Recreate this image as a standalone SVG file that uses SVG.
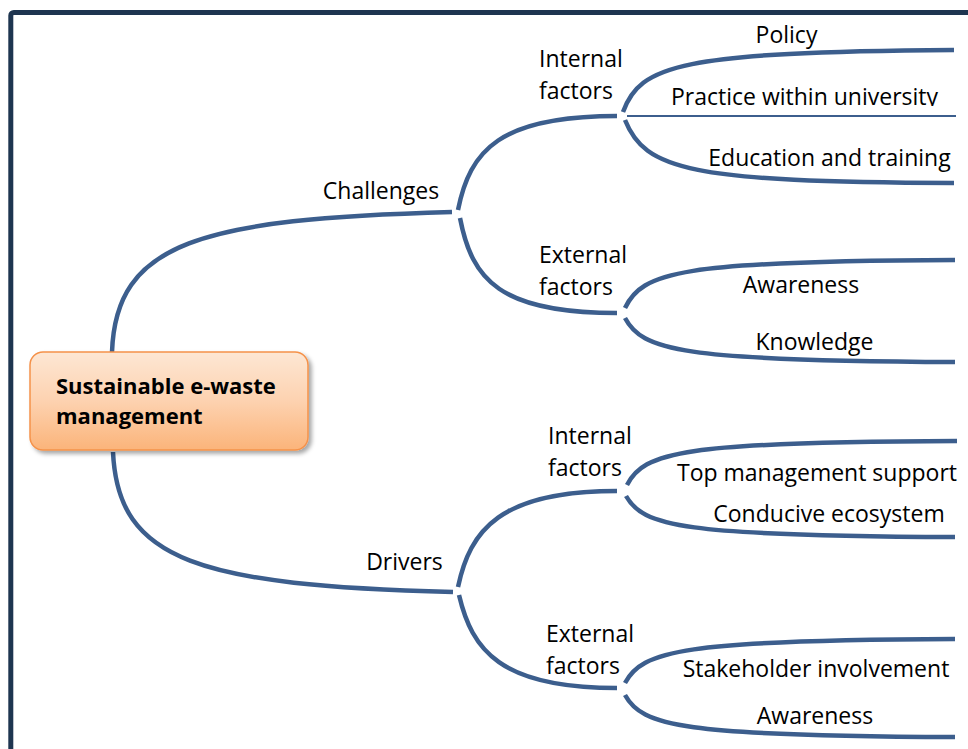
<svg xmlns="http://www.w3.org/2000/svg" width="968" height="749" viewBox="0 0 968 749">
<defs>
<linearGradient id="nodeFill" x1="0" y1="0" x2="0" y2="1">
<stop offset="0" stop-color="#fde7d4"/>
<stop offset="0.5" stop-color="#fdd2b0"/>
<stop offset="1" stop-color="#fbb47a"/>
</linearGradient>
<filter id="shadow" x="-10%" y="-10%" width="130%" height="140%">
<feDropShadow dx="3" dy="3" stdDeviation="2" flood-color="#000" flood-opacity="0.35"/>
</filter>
<clipPath id="clipPractice">
<rect x="600" y="70" width="368" height="36"/>
</clipPath>
</defs>
<style>
.frame{fill:none;stroke:#1e3550;stroke-width:5}
.conn{fill:none;stroke:#3c5e8d;stroke-width:4.5;stroke-linecap:butt}
.thin{fill:none;stroke:#3c5e8d;stroke-width:1.8}
.lbl{font-family:"Open Sans","Liberation Sans",sans-serif;font-size:23px;fill:#000}
.mid{text-anchor:middle}
.root{font-family:"Open Sans","Liberation Sans",sans-serif;font-size:22px;font-weight:bold;fill:#000}
</style>
<rect class="frame" x="10.8" y="12.5" width="1000" height="800" rx="3"/>
<g id="connectors">
<path class="conn" d="M112,352 C116,242 200,219 452,212"/>
<path class="conn" d="M113,452 C118,562 200,585 453,592"/>
<path class="conn" d="M458,210 C470,150 500,116 617,116"/>
<path class="conn" d="M460,218 C472,280 500,313 617,313"/>
<path class="conn" d="M623,112 C640,65 680,52 954,50"/>
<path class="thin" d="M627,116 L956,116"/>
<path class="conn" d="M625,120 C645,170 690,182 954,183"/>
<path class="conn" d="M625,308 C642,272 680,261 955,260"/>
<path class="conn" d="M625,318 C642,350 680,361 955,362"/>
<path class="conn" d="M458,587 C470,530 500,491 617,491"/>
<path class="conn" d="M459,595 C472,650 500,688 617,688"/>
<path class="conn" d="M627,485 C644,452 682,442 957,441"/>
<path class="conn" d="M626,496 C643,526 682,536 955,537"/>
<path class="conn" d="M625,683 C642,651 682,640 955,639"/>
<path class="conn" d="M625,695 C642,726 682,736 955,737"/>
</g>
<g id="root">
<rect x="30" y="352" width="278" height="98" rx="13" fill="url(#nodeFill)" stroke="#f5924a" stroke-width="1.5" filter="url(#shadow)"/>
<text class="root" x="56" y="394">Sustainable e-waste</text>
<text class="root" x="56" y="424">management</text>
</g>
<g id="challenges"><text class="lbl mid" x="381" y="199">Challenges</text></g>
<g id="drivers"><text class="lbl mid" x="404.5" y="570">Drivers</text></g>
<g id="ch-internal"><text class="lbl" x="539" y="67">Internal</text><text class="lbl" x="539" y="99">factors</text></g>
<g id="ch-external"><text class="lbl" x="539" y="263">External</text><text class="lbl" x="539" y="295">factors</text></g>
<g id="dr-internal"><text class="lbl" x="548" y="444">Internal</text><text class="lbl" x="548" y="476">factors</text></g>
<g id="dr-external"><text class="lbl" x="546" y="642">External</text><text class="lbl" x="546" y="674">factors</text></g>
<g id="policy"><text class="lbl mid" x="786.5" y="43">Policy</text></g>
<g id="practice"><text class="lbl mid" x="804.5" y="105" clip-path="url(#clipPractice)">Practice within university</text></g>
<g id="education"><text class="lbl mid" x="829.5" y="166">Education and training</text></g>
<g id="ch-awareness"><text class="lbl mid" x="801" y="293">Awareness</text></g>
<g id="knowledge"><text class="lbl mid" x="814.5" y="350">Knowledge</text></g>
<g id="top-mgmt"><text class="lbl mid" x="817" y="481">Top management support</text></g>
<g id="conducive"><text class="lbl mid" x="829" y="522">Conducive ecosystem</text></g>
<g id="stakeholder"><text class="lbl mid" x="816" y="677">Stakeholder involvement</text></g>
<g id="dr-awareness"><text class="lbl mid" x="815" y="724">Awareness</text></g>
</svg>
